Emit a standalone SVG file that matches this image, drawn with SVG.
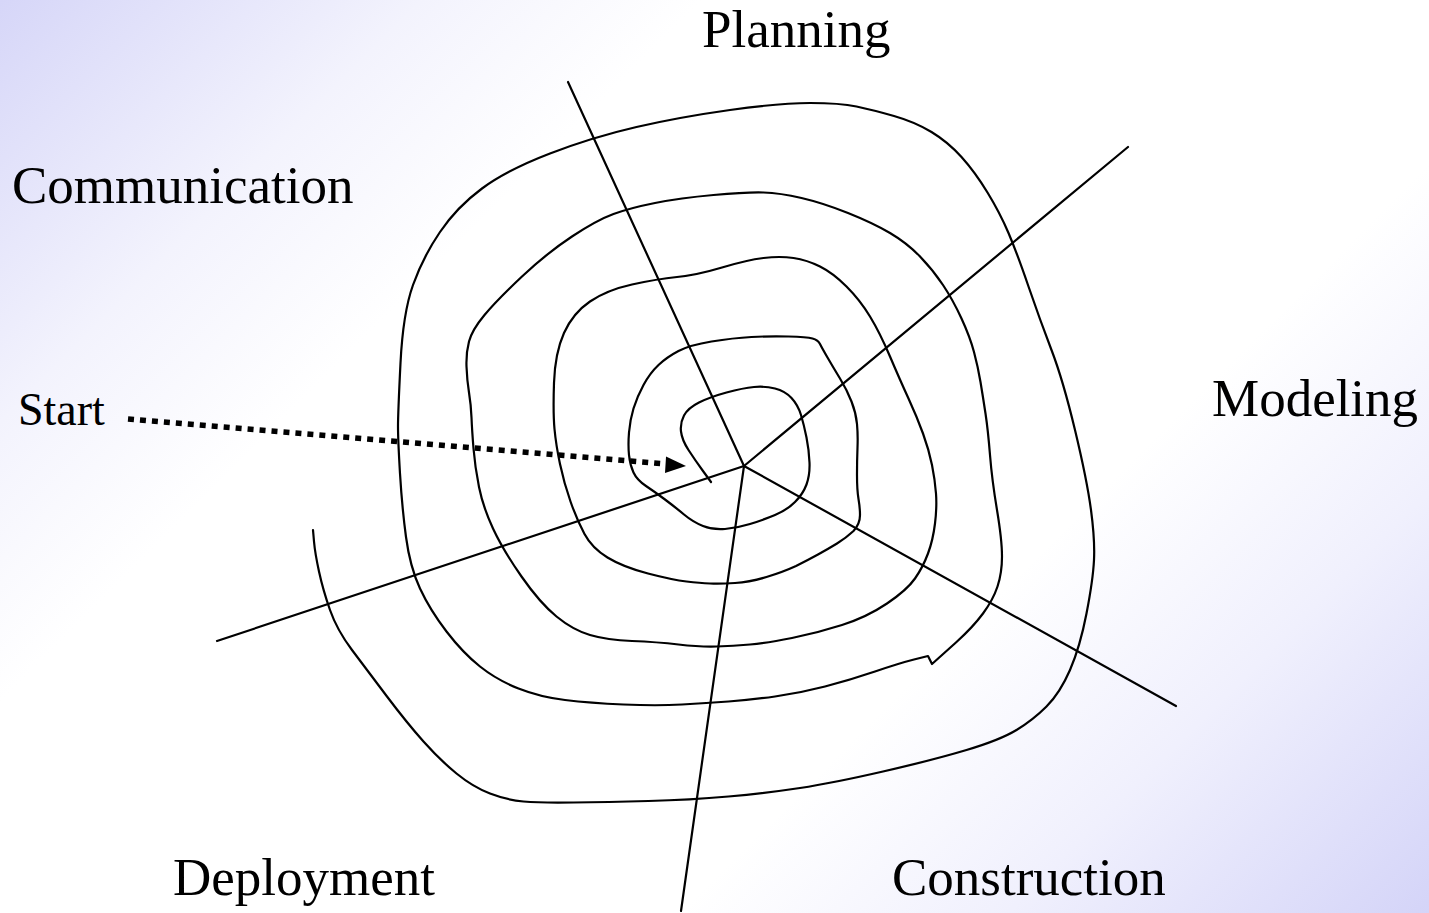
<svg xmlns="http://www.w3.org/2000/svg" width="1429" height="913" viewBox="0 0 1429 913">
<style>
.lbl{font-family:"Liberation Serif","Times New Roman",serif;font-size:53px;fill:#000}
.small{font-size:46px}
.ink{fill:none;stroke:#000;stroke-width:2.2;stroke-linecap:round;stroke-linejoin:round}
.dots{fill:none;stroke:#000;stroke-width:5.5;stroke-dasharray:6 6}
</style>
<defs>
<linearGradient id="bg" x1="0" y1="0" x2="1171" y2="1171" gradientUnits="userSpaceOnUse">
<stop offset="0" stop-color="#d6d6f8"/>
<stop offset="0.18" stop-color="#f3f3fd"/>
<stop offset="0.3" stop-color="#ffffff"/>
<stop offset="0.68" stop-color="#ffffff"/>
<stop offset="0.82" stop-color="#f0f0fd"/>
<stop offset="1" stop-color="#d4d4f8"/>
</linearGradient>
</defs>
<rect width="1429" height="913" fill="url(#bg)"/>
<g id="connectors">
<g id="axes" class="ink">
<line x1="568" y1="82" x2="744" y2="466"/>
<line x1="744" y1="466" x2="1128" y2="147"/>
<line x1="744" y1="466" x2="1176" y2="706"/>
<line x1="744" y1="466" x2="681" y2="911"/>
<line x1="744" y1="466" x2="217" y2="641"/>
</g>
<path id="spiral" class="ink" d="M711,482 L703,471 Q695,460 688.5,450 Q682,440 681,431.5 Q680,423 684,415.5 Q688,408 699,402.5 Q710,397 726.5,392.5 Q743,388 754,387 Q765,386 775,388.5 Q785,391 791.5,398 Q798,405 801,415 Q804,425 806.5,437.5 Q809,450 809.5,462.5 Q810,475 806.5,484.5 Q803,494 795,502 Q787,510 775,515 Q763,520 750,524 Q737,528 725,529 Q713,530 703,526 Q693,522 684,514.5 Q675,507 665,499.5 Q655,492 646,486 Q637,480 633.5,472.5 Q630,465 629,455 Q628,445 629,432.5 Q630,420 633.5,408.5 Q637,397 643.5,385 Q650,373 658.5,365 Q667,357 678.5,351 Q690,345 711.5,341.5 Q733,338 751.5,337 Q770,336 788.5,336.5 Q807,337 812.5,338.5 Q818,340 820,344 Q822,348 827.5,357.5 Q833,367 840,378.5 Q847,390 851.5,401.5 Q856,413 857,424 Q858,435 857.5,447.5 Q857,460 857,475 Q857,490 858.5,499 Q860,508 860,515 Q860,524 853.5,531 Q846,538 837,543.5 Q828,549 818,554.5 Q808,560 796,566 Q783,572 766.5,577 Q750,582 735,583 Q720,584 710,583.5 Q700,583 686.5,581.5 Q673,580 648,573.5 Q623,567 607.5,557.5 Q592,548 584.5,534 Q577,520 570.5,501.5 Q564,483 560,464 Q556,445 554.5,429 Q553,413 554,383 Q555,353 564,333 Q573,313 590,301.5 Q607,290 632,284.5 Q657,279 677,277 Q697,275 722,267.5 Q747,260 763.5,258 Q780,256 793.5,258 Q807,260 820,266.5 Q833,273 846.5,286.5 Q860,300 870,316.5 Q880,333 890,356.5 Q900,380 908.5,398.5 Q917,417 923,433.5 Q929,450 932,465 Q935,480 936,493.5 Q937,507 935,523.5 Q933,540 928,553.5 Q923,567 915,578.5 Q907,590 887,603.5 Q867,617 842,625 Q817,633 792,638 Q767,643 750,644.5 Q733,646 716.5,646.5 Q700,647 678.5,644.5 Q657,642 632,641 Q607,640 590,635 Q573,630 556.5,616.5 Q540,603 521.5,576.5 Q503,550 493,528.5 Q483,507 479,487 Q475,467 473.5,448.5 Q472,430 471.5,417.5 Q471,405 469,392.5 Q467,380 466.5,366.5 Q466,353 469,341.5 Q472,330 484.5,315 Q497,300 522,276.5 Q547,253 572,236.5 Q597,220 613.5,214 Q630,208 655,203 Q680,198 713.5,195 Q747,192 763.5,192.5 Q780,193 801.5,198 Q823,203 848,213 Q873,223 890,233 Q907,243 920,256.5 Q933,270 943,285 Q953,300 961.5,318.5 Q970,337 974,352 Q978,367 980.5,382 Q983,397 985.5,413.5 Q988,430 990,455 Q992,480 997,510 Q1002,540 1002,556.5 Q1002,573 997.5,586.5 Q993,600 983,613.5 Q973,627 956.5,642 L932,664 L928,656 L914,659.5 Q900,663 875,671.5 Q850,680 825,686.5 Q800,693 775,696.5 Q750,700 728.5,701.5 Q707,703 682,704.5 Q657,706 623.5,704.5 Q590,703 565,700 Q540,697 518.5,688.5 Q497,680 480,666.5 Q463,653 446.5,631.5 Q430,610 420,588.5 Q410,567 406,537 Q402,507 400,473.5 Q398,440 398,426.5 Q398,413 400.5,363 Q403,313 413,285 Q423,257 440,232 Q457,207 482,188.5 Q507,170 550,153.5 Q593,137 636.5,127 Q680,117 730,110 Q780,103 810,103 Q840,103 856.5,106.5 Q873,110 894,116 Q915,122 931.5,132 Q948,142 961.5,157 Q975,172 987.5,192.5 Q1000,213 1008.5,233 Q1017,253 1028.5,286.5 Q1040,320 1051.5,350 Q1063,380 1075,430 Q1087,480 1091,510 Q1095,540 1094,560 Q1093,580 1086.5,613.5 Q1080,647 1070,670 Q1060,693 1046.5,706.5 Q1033,720 1016.5,730 Q1000,740 966.5,750 Q933,760 883,771.5 Q833,783 800,788 Q767,793 728.5,796.5 Q690,800 648.5,801 Q607,802 573.5,802.5 Q540,803 523.5,801.5 Q507,800 490,793.5 Q473,787 456.5,773.5 Q440,760 423.5,741.5 Q407,723 387,696.5 Q367,670 352,650 Q337,630 330,610 Q323,590 319,571.5 Q315,553 314,541.5 Q313,530 313,530"/>
<g id="start-arrow">
<line class="dots" x1="128" y1="419" x2="666" y2="464"/>
<polygon points="686,466 666,456.5 665,473" fill="#000"/>
</g>
</g>
<g id="planning"><text class="lbl" x="702" y="47">Planning</text></g>
<g id="communication"><text class="lbl" x="12" y="203">Communication</text></g>
<g id="start"><text class="lbl small" x="18" y="425">Start</text></g>
<g id="modeling"><text class="lbl" x="1212" y="416">Modeling</text></g>
<g id="deployment"><text class="lbl" x="173" y="895">Deployment</text></g>
<g id="construction"><text class="lbl" x="892" y="895">Construction</text></g>
<g id="start-faint"><text class="lbl small" x="26" y="690" style="fill:#ffffff">Start</text></g>
</svg>
